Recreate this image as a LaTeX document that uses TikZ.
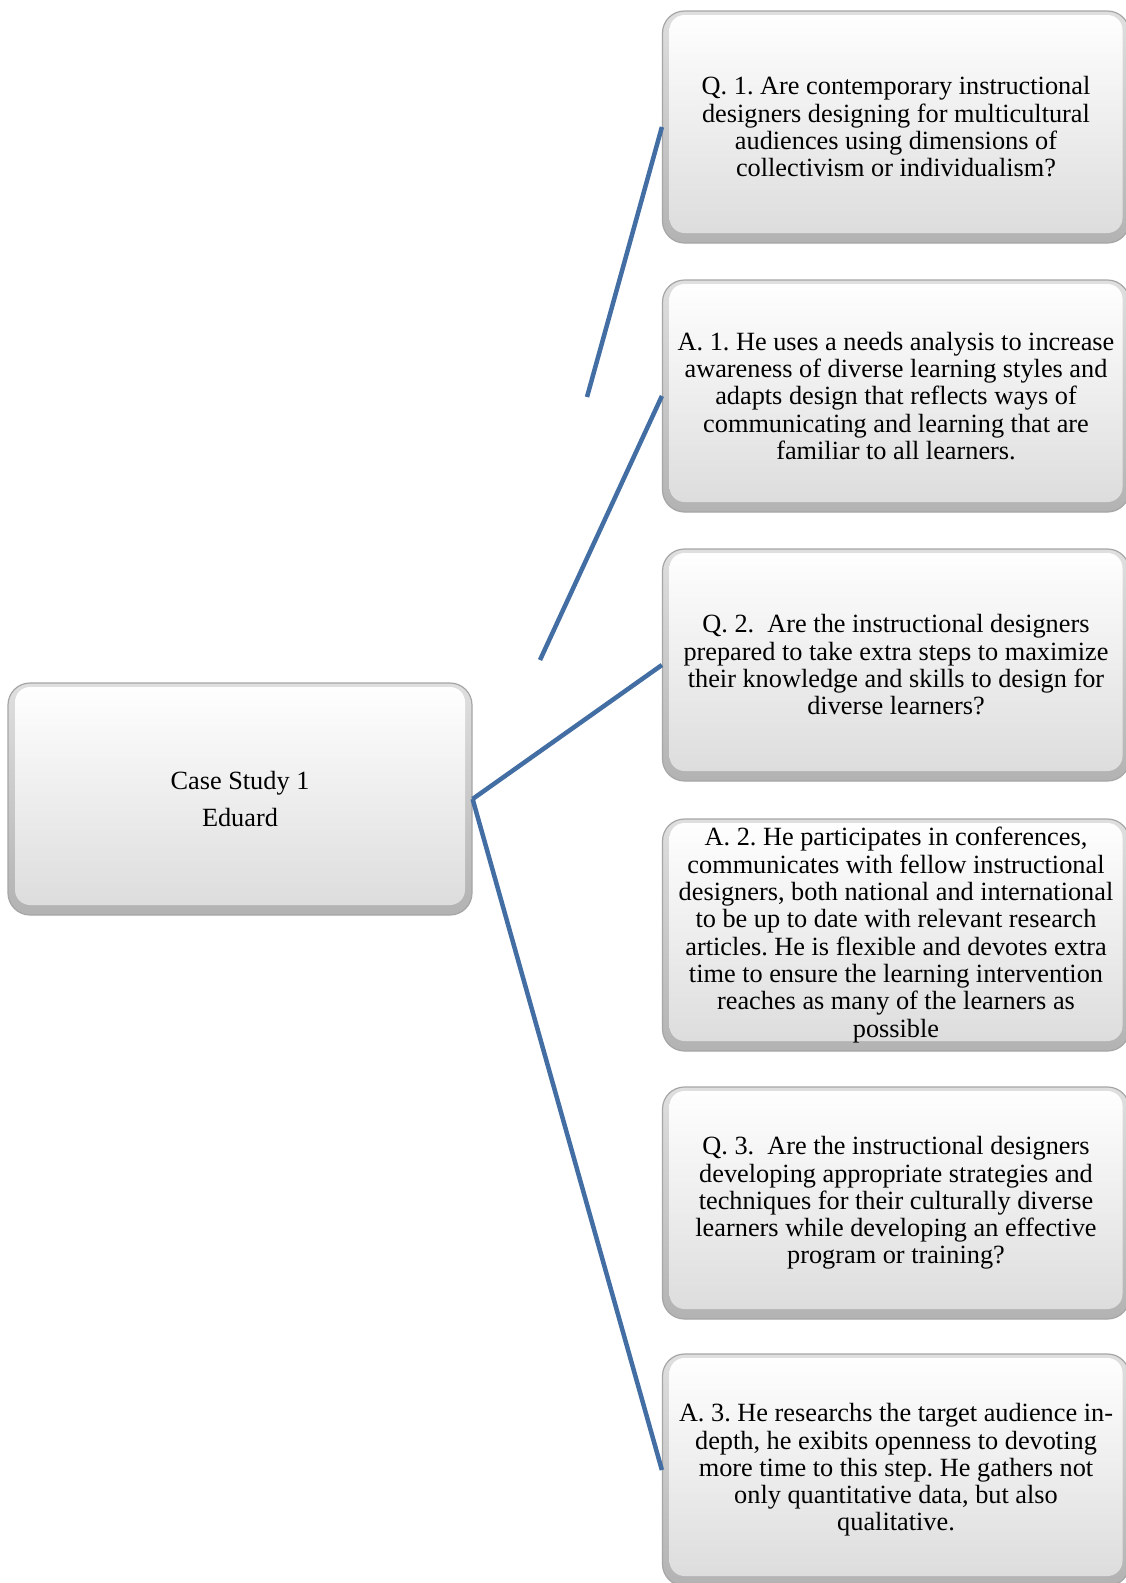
\documentclass[tikz,border=0pt]{standalone}
\usepackage{fontspec}
\setmainfont{Liberation Serif}
\usepackage{tikz}
\definecolor{linkblue}{RGB}{66,110,164}
\newcommand{\boxfont}{\fontsize{26.3}{27.3}\selectfont\frenchspacing}
\tikzset{
	bevel/.style={rounded corners=22pt, draw=gray!70, line width=1.2pt,
		top color=gray!25, bottom color=gray!60, inner sep=0pt,
		minimum width=467pt, minimum height=232pt, align=center, font=\boxfont,
		path picture={\shade[top color=white, bottom color=gray!28, rounded corners=15pt]
			([shift={(7pt,-4pt)}]path picture bounding box.north west) rectangle
			([shift={(-7pt,10pt)}]path picture bounding box.south east);}},
	link/.style={draw=linkblue, line width=4.5pt},
}

\begin{document}
\begin{tikzpicture}[x=1pt,y=-1pt]
		\useasboundingbox[fill=white] (0,0) rectangle (1125,1583);
		\begin{scope}
			\node[bevel, minimum width=464pt] (root) at (240,799) {Case Study 1\\[10pt]Eduard};
			\node[bevel] (q1) at (896,127) {Q. 1. Are contemporary instructional\\designers designing for multicultural\\audiences using dimensions of\\collectivism or individualism?};
			\node[bevel] (a1) at (896,396) {A. 1. He uses a needs analysis to increase\\awareness of diverse learning styles and\\adapts design that reflects ways of\\communicating and learning that are\\familiar to all learners.};
			\node[bevel] (q2) at (896,665) {Q. 2.\ \ Are the instructional designers\\prepared to take extra steps to maximize\\their knowledge and skills to design for\\diverse learners?};
			\node[bevel] (a2) at (896,935) {A. 2. He participates in conferences,\\communicates with fellow instructional\\designers, both national and international\\to be up to date with relevant research\\articles. He is flexible and devotes extra\\time to ensure the learning intervention\\reaches as many of the learners as\\possible};
			\node[bevel] (q3) at (896,1203) {Q. 3.\ \ Are the instructional designers\\developing appropriate strategies and\\techniques for their culturally diverse\\learners while developing an effective\\program or training?};
			\node[bevel] (a3) at (896,1470) {A. 3. He researchs the target audience in-\\depth, he exibits openness to devoting\\more time to this step. He gathers not\\only quantitative data, but also\\qualitative.};
		\end{scope}
		\begin{scope}[link]
			\coordinate (c1) at (587,397);
			\coordinate (c2) at (540,660);
			\draw (q1.west) to (c1);
			\draw (a1.west) to (c2);
			\draw (q2.west) to (root.east);
			\draw (root.east) to (a3.west);
		\end{scope}
	\end{tikzpicture}
\end{document}
